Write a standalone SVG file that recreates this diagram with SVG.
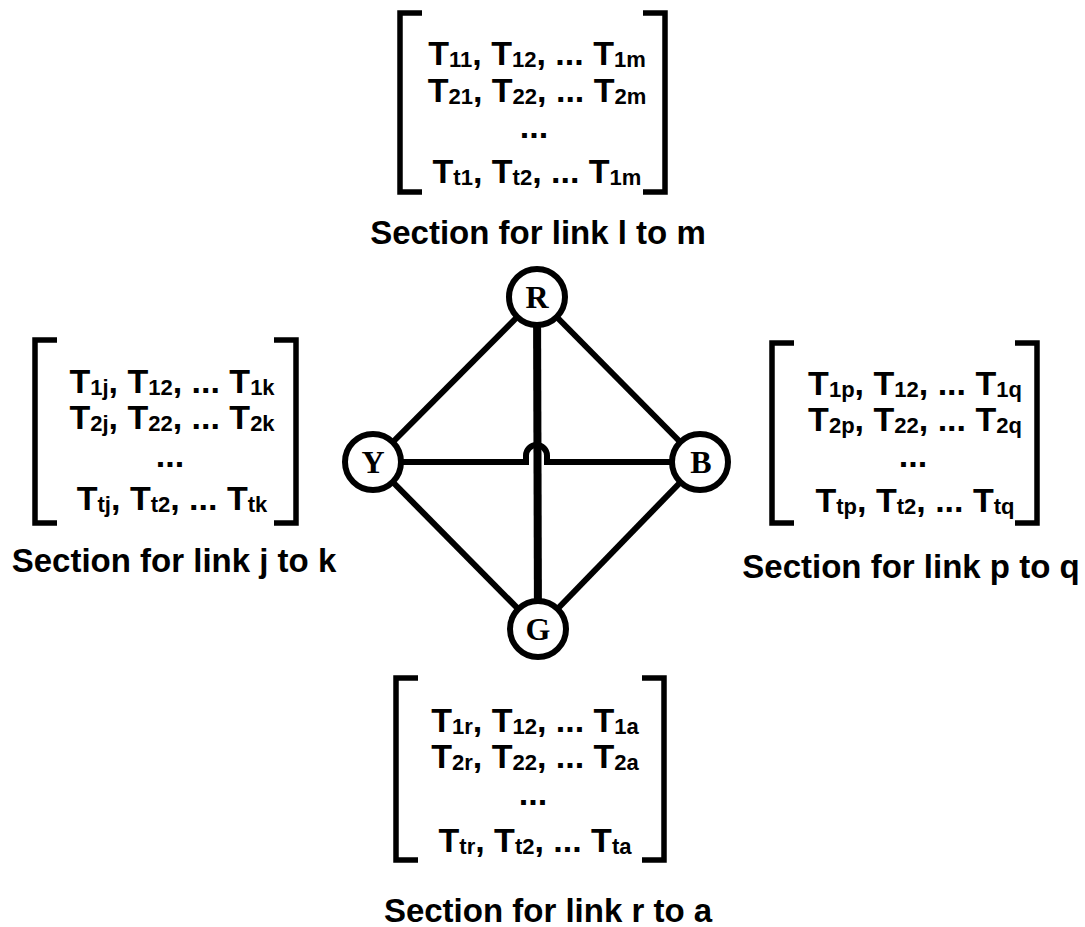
<svg xmlns="http://www.w3.org/2000/svg" width="1085" height="927" viewBox="0 0 1085 927">
<style>
.br{fill:none;stroke:#000;stroke-width:5.5;stroke-linejoin:miter}
.m{font-family:"Liberation Sans",Arial,sans-serif;font-weight:bold;font-size:34px;fill:#000;text-anchor:middle}
.lbl{font-family:"Liberation Sans",Arial,sans-serif;font-weight:bold;font-size:33px;fill:#000;text-anchor:middle}
.s{font-size:22px}
.e{fill:none;stroke:#000;stroke-width:6}
.v{fill:none;stroke:#000;stroke-width:8}
.nc{fill:#fff;stroke:#000;stroke-width:6}
.nt{font-family:"Liberation Serif","Times New Roman",serif;font-weight:bold;font-size:32px;fill:#000;text-anchor:middle}
</style>
<rect width="1085" height="927" fill="#fff"/>
<g id="connectors">
<line class="e" x1="537" y1="297" x2="373" y2="462"/>
<line class="e" x1="537" y1="297" x2="700" y2="462"/>
<line class="e" x1="373" y1="462" x2="538" y2="629"/>
<line class="e" x1="700" y1="462" x2="538" y2="629"/>
<path class="e" d="M373 462 L526 462 L526 455.5 A10.5 10.5 0 0 1 547 455.5 L547 462 L700 462"/>
<line class="v" x1="537" y1="297" x2="538" y2="629"/>
</g>
<g id="node-R"><circle class="nc" cx="537" cy="297" r="28"/><text class="nt" x="537" y="308">R</text></g>
<g id="node-Y"><circle class="nc" cx="373" cy="462" r="28"/><text class="nt" x="373" y="473">Y</text></g>
<g id="node-B"><circle class="nc" cx="700" cy="462" r="28"/><text class="nt" x="701" y="473">B</text></g>
<g id="node-G"><circle class="nc" cx="538" cy="629" r="28"/><text class="nt" x="538" y="640">G</text></g>
<g id="section-lm">
<path class="br" d="M422 13 L400 13 L400 192 L422 192"/>
<path class="br" d="M643 13 L665 13 L665 192 L643 192"/>
<text class="m" x="537" y="65">T<tspan class="s" dy="2">11</tspan><tspan dy="-2">, T</tspan><tspan class="s" dy="2">12</tspan><tspan dy="-2">, ... T</tspan><tspan class="s" dy="2">1m</tspan></text>
<text class="m" x="537" y="102">T<tspan class="s" dy="2">21</tspan><tspan dy="-2">, T</tspan><tspan class="s" dy="2">22</tspan><tspan dy="-2">, ... T</tspan><tspan class="s" dy="2">2m</tspan></text>
<text class="m" x="534" y="138">...</text>
<text class="m" x="537" y="183">T<tspan class="s" dy="2">t1</tspan><tspan dy="-2">, T</tspan><tspan class="s" dy="2">t2</tspan><tspan dy="-2">, ... T</tspan><tspan class="s" dy="2">1m</tspan></text>
<text class="lbl" x="538" y="244">Section for link l to m</text>
</g>
<g id="section-jk">
<path class="br" d="M57 340 L35 340 L35 523 L57 523"/>
<path class="br" d="M274 340 L296 340 L296 523 L274 523"/>
<text class="m" x="172" y="393">T<tspan class="s" dy="2">1j</tspan><tspan dy="-2">, T</tspan><tspan class="s" dy="2">12</tspan><tspan dy="-2">, ... T</tspan><tspan class="s" dy="2">1k</tspan></text>
<text class="m" x="172" y="429">T<tspan class="s" dy="2">2j</tspan><tspan dy="-2">, T</tspan><tspan class="s" dy="2">22</tspan><tspan dy="-2">, ... T</tspan><tspan class="s" dy="2">2k</tspan></text>
<text class="m" x="170" y="467">...</text>
<text class="m" x="172" y="510">T<tspan class="s" dy="2">tj</tspan><tspan dy="-2">, T</tspan><tspan class="s" dy="2">t2</tspan><tspan dy="-2">, ... T</tspan><tspan class="s" dy="2">tk</tspan></text>
<text class="lbl" x="174" y="572">Section for link j to k</text>
</g>
<g id="section-pq">
<path class="br" d="M794 343 L772 343 L772 523 L794 523"/>
<path class="br" d="M1015 343 L1037 343 L1037 523 L1015 523"/>
<text class="m" x="915" y="395">T<tspan class="s" dy="2">1p</tspan><tspan dy="-2">, T</tspan><tspan class="s" dy="2">12</tspan><tspan dy="-2">, ... T</tspan><tspan class="s" dy="2">1q</tspan></text>
<text class="m" x="915" y="431">T<tspan class="s" dy="2">2p</tspan><tspan dy="-2">, T</tspan><tspan class="s" dy="2">22</tspan><tspan dy="-2">, ... T</tspan><tspan class="s" dy="2">2q</tspan></text>
<text class="m" x="913" y="467">...</text>
<text class="m" x="915" y="512">T<tspan class="s" dy="2">tp</tspan><tspan dy="-2">, T</tspan><tspan class="s" dy="2">t2</tspan><tspan dy="-2">, ... T</tspan><tspan class="s" dy="2">tq</tspan></text>
<text class="lbl" x="911" y="578">Section for link p to q</text>
</g>
<g id="section-ra">
<path class="br" d="M418 678 L396 678 L396 860 L418 860"/>
<path class="br" d="M642 678 L664 678 L664 860 L642 860"/>
<text class="m" x="535" y="732">T<tspan class="s" dy="2">1r</tspan><tspan dy="-2">, T</tspan><tspan class="s" dy="2">12</tspan><tspan dy="-2">, ... T</tspan><tspan class="s" dy="2">1a</tspan></text>
<text class="m" x="535" y="768">T<tspan class="s" dy="2">2r</tspan><tspan dy="-2">, T</tspan><tspan class="s" dy="2">22</tspan><tspan dy="-2">, ... T</tspan><tspan class="s" dy="2">2a</tspan></text>
<text class="m" x="533" y="805">...</text>
<text class="m" x="535" y="852">T<tspan class="s" dy="2">tr</tspan><tspan dy="-2">, T</tspan><tspan class="s" dy="2">t2</tspan><tspan dy="-2">, ... T</tspan><tspan class="s" dy="2">ta</tspan></text>
<text class="lbl" x="548" y="922">Section for link r to a</text>
</g>
</svg>
